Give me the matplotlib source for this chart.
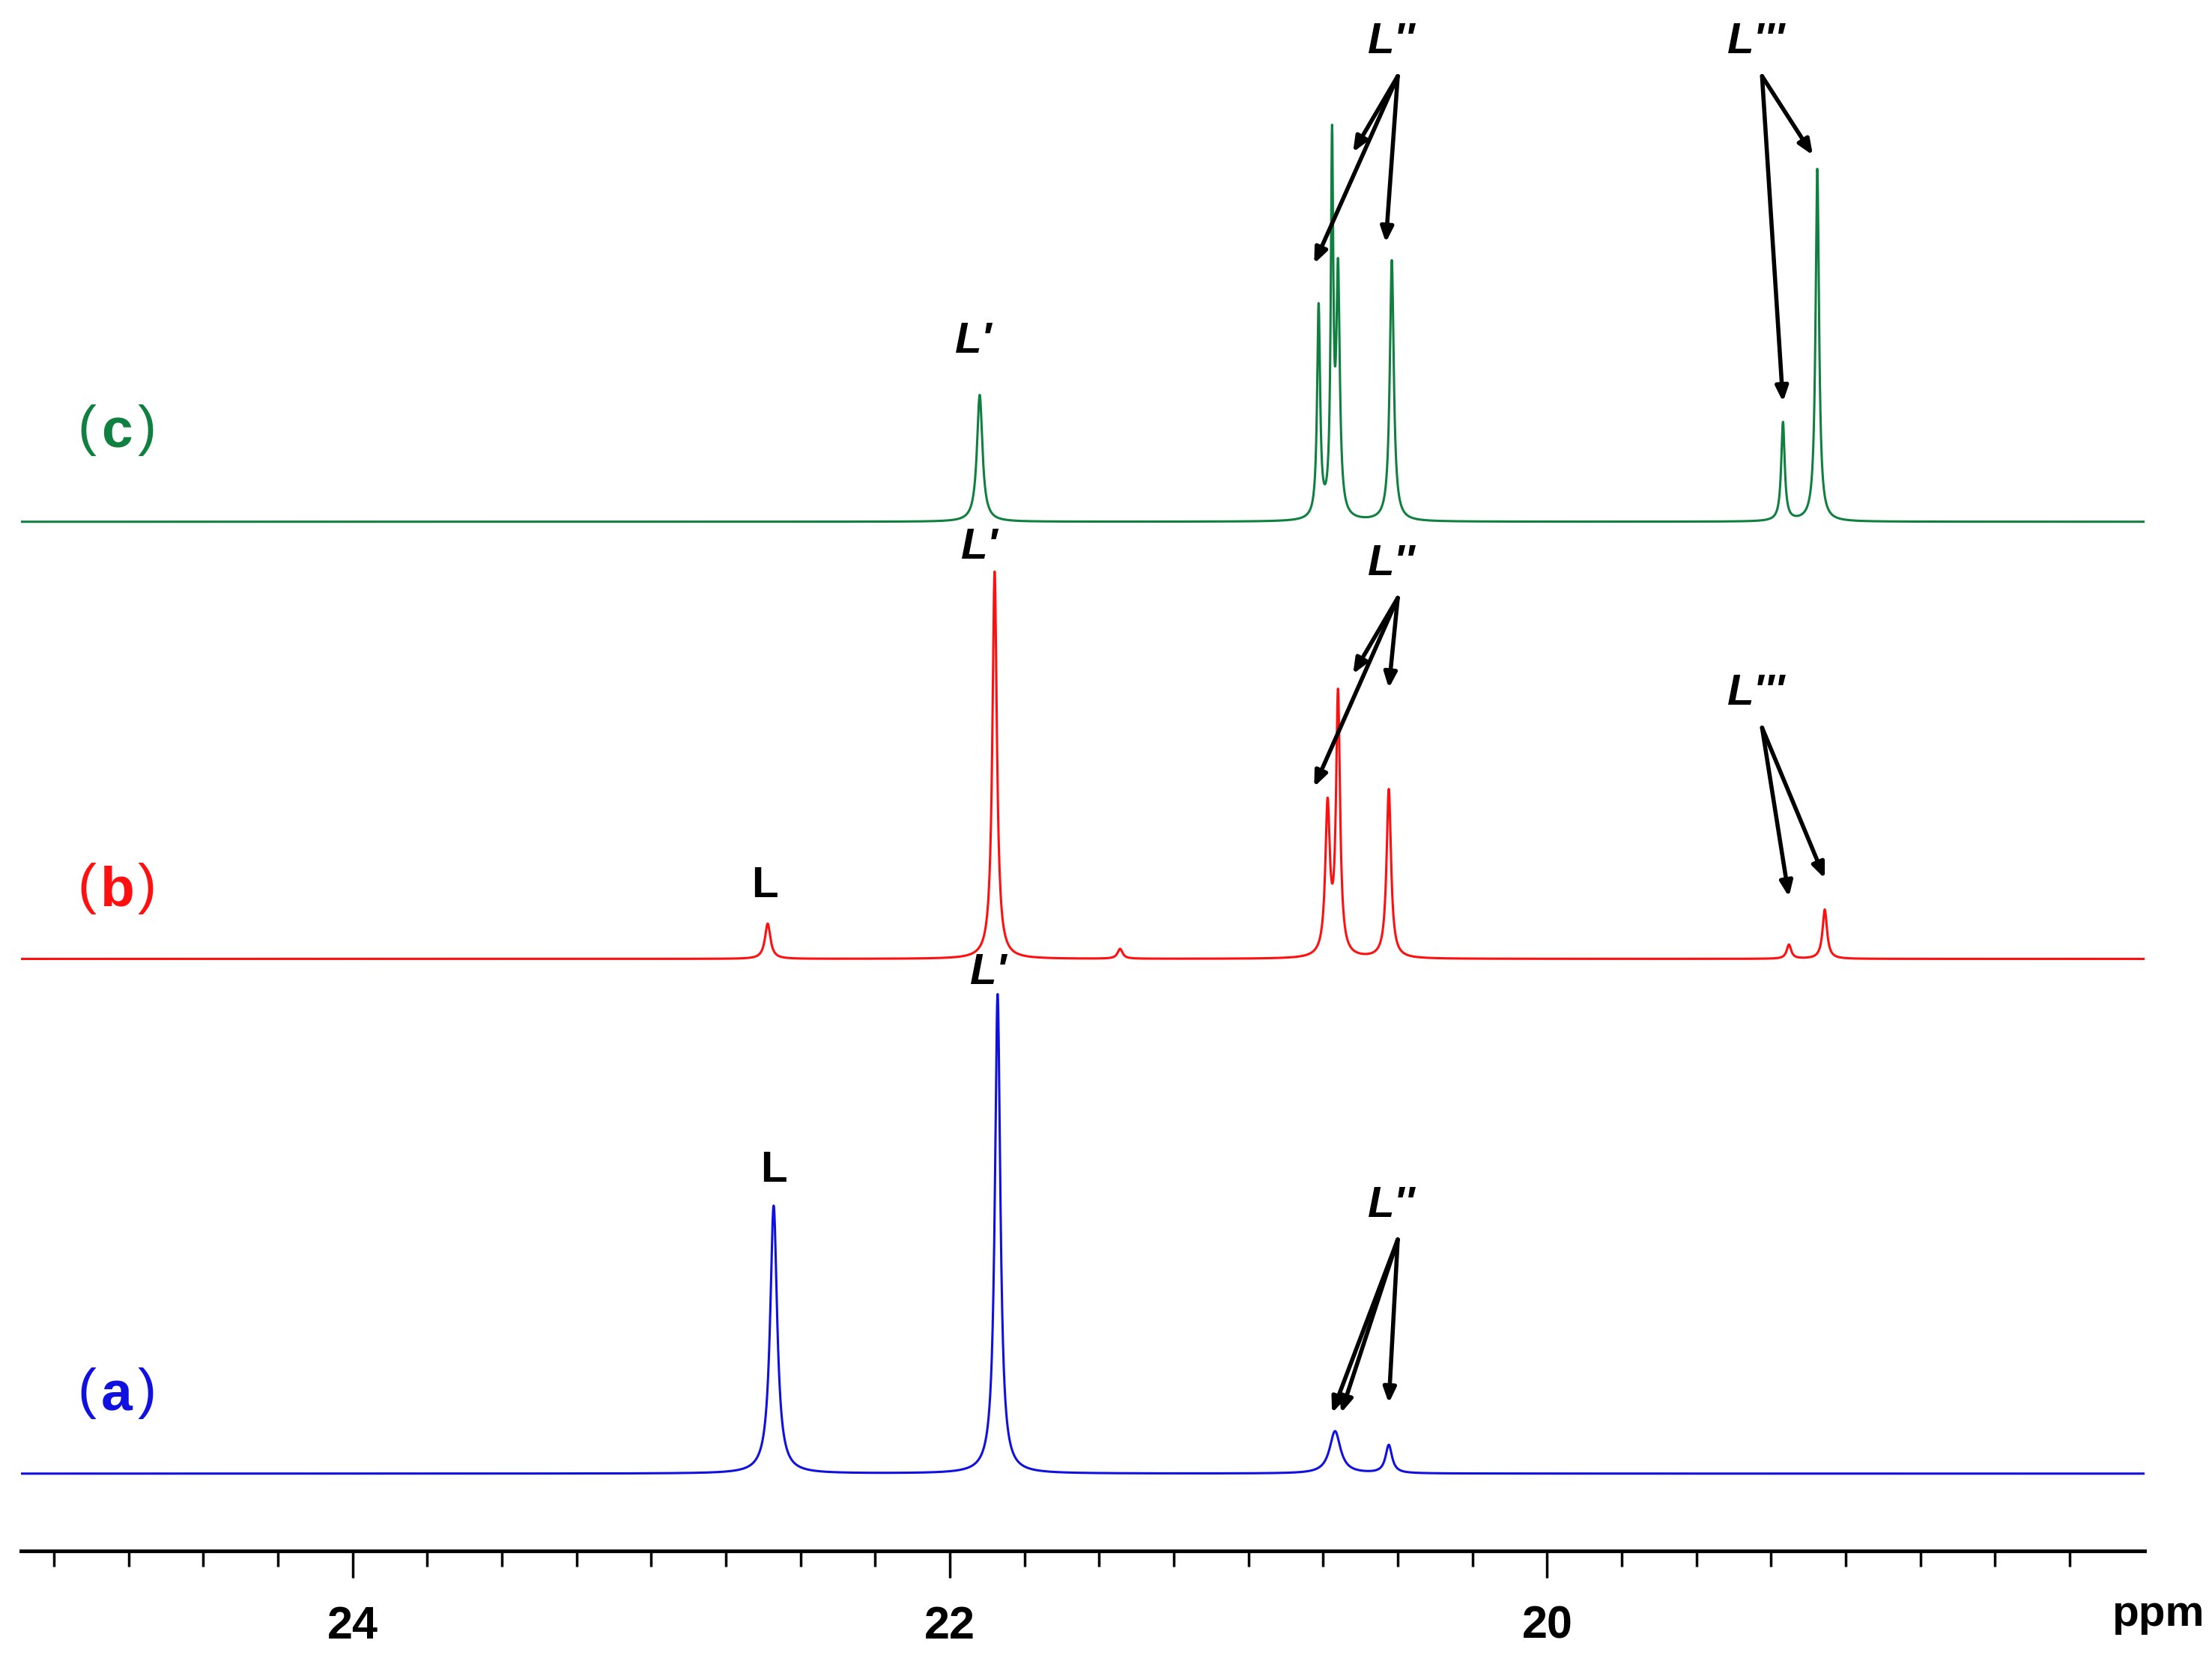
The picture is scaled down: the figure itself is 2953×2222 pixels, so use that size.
import numpy as np
import matplotlib
matplotlib.use("Agg")
import matplotlib.pyplot as plt

plt.rcParams['font.family'] = ['Liberation Sans', 'DejaVu Sans']

# peak lists: (ppm, height, half-width ppm)
peaks_a = [(22.59, 190, 0.014), (21.84, 340, 0.011), (20.71, 30, 0.022), (20.53, 20, 0.013)]
peaks_b = [(22.61, 25, 0.011), (21.85, 275, 0.009), (20.735, 105, 0.009), (20.70, 185, 0.008),
           (20.53, 120, 0.009), (21.43, 7, 0.01), (19.19, 10, 0.009), (19.07, 35, 0.009)]
peaks_c = [(21.90, 90, 0.011), (20.765, 150, 0.006), (20.72, 260, 0.005), (20.70, 170, 0.007),
           (20.52, 185, 0.008), (19.21, 70, 0.007), (19.095, 250, 0.007)]
baselines = {'a': 1045, 'b': 680, 'c': 370}
colors = {'a': '#1010e0', 'b': '#ff1010', 'c': '#108040'}
label_pos = {'a': 988, 'b': 630, 'c': 305}

fig = plt.figure(figsize=(29.53, 22.22), dpi=100)
ax = fig.add_axes([15/1568, 1-1100/1180, 1505/1568, 1100/1180])
x_left, x_right = 25.11, 18.0
ax.set_xlim(x_left, x_right)
ax.set_ylim(1100, 0)

x = np.linspace(x_left, x_right, 8000)
for key, pk in (('a', peaks_a), ('b', peaks_b), ('c', peaks_c)):
    y = np.zeros_like(x)
    for p, h, w in pk:
        y += h / (1 + ((x - p) / w) ** 2)
    ax.plot(x, baselines[key] - y, color=colors[key], lw=2.2)
    ax.text(24.89, label_pos[key], '(', color=colors[key], fontsize=54, ha='center', va='center')
    ax.text(24.79, label_pos[key] + 2, key, color=colors[key], fontsize=54, fontweight='bold', ha='center', va='center')
    ax.text(24.69, label_pos[key], ')', color=colors[key], fontsize=54, ha='center', va='center')

for s in ('top', 'left', 'right'):
    ax.spines[s].set_visible(False)
ax.spines['bottom'].set_linewidth(3.5)
ax.set_yticks([])
ax.set_xticks([24, 22, 20])
ax.set_xticklabels(['24', '22', '20'], fontsize=44, fontweight='bold')
ax.set_xticks(np.arange(18.25, 25.1, 0.25), minor=True)
ax.tick_params(axis='x', which='major', length=26, width=2.5, pad=26)
ax.tick_params(axis='x', which='minor', length=15, width=2.5)
ax.text(17.80, 1145, 'ppm', fontsize=42, fontweight='bold', ha='right', va='center', clip_on=False)

# labels
lab = dict(fontsize=42, fontweight='bold', ha='center', va='center')
ax.text(22.59, 830, 'L', **lab)
ax.text(22.62, 628, 'L', **lab)
ax.text(21.87, 690, "L'", style='italic', **lab)
ax.text(21.9, 388, "L'", style='italic', **lab)
ax.text(21.92, 242, "L'", style='italic', **lab)

def arrows(tx, ty, label, targets):
    ax.text(tx, ty, label, style='italic', **lab)
    for (ex, ey) in targets:
        ax.annotate('', xy=(ex, ey), xytext=(tx - 0.02, ty + 24),
                    arrowprops=dict(arrowstyle='-|>,head_length=1.2,head_width=0.5', lw=4, color='black',
                                    shrinkA=0, shrinkB=0))

arrows(20.52, 855, "L''", [(20.72, 1002), (20.69, 1002), (20.53, 995)])
arrows(20.52, 400, "L''", [(20.78, 558), (20.65, 478), (20.53, 488)])
arrows(20.52, 30, "L''", [(20.78, 187), (20.65, 108), (20.54, 172)])
arrows(19.30, 492, "L'''", [(19.19, 636), (19.07, 623)])
arrows(19.30, 30, "L'''", [(19.21, 285), (19.11, 110)])

fig.savefig('out.png', dpi=100)
